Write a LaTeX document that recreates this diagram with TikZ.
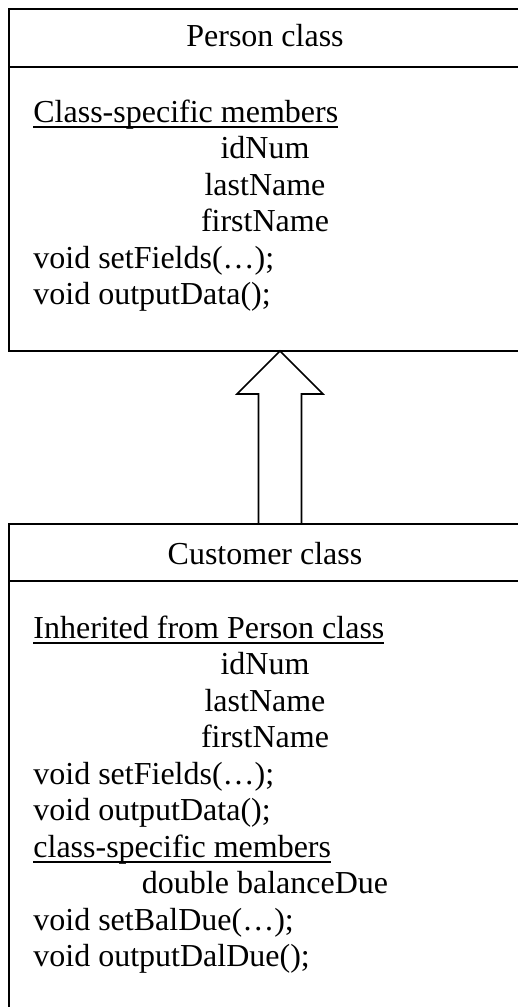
\documentclass[tikz,border=0pt]{standalone}
\usepackage{fontspec}
\setmainfont{Liberation Serif}
\usetikzlibrary{positioning}

\newsavebox{\ulbox}
\newcommand{\ulword}[1]{\sbox{\ulbox}{#1}\rlap{\vrule height -1.9pt depth 3pt width \wd\ulbox}\usebox{\ulbox}}
\newcommand{\membfont}{\fontsize{16}{19}\selectfont}

\begin{document}
\begin{tikzpicture}[x=0.5pt, y=-0.5pt,
  classbox/.style={draw, line width=1pt, outer sep=0pt, inner sep=0pt, anchor=north west},
  title/.style={anchor=base, inner sep=0pt, font=\membfont},
  member/.style={anchor=base west, inner sep=0pt, font=\membfont},
  field/.style={anchor=base, inner sep=0pt, font=\membfont},
  inherit/.style={draw, line width=0.8pt, fill=white, line join=miter}]

% GLOBAL SETTINGS
\newcommand{\lx}{33}
\newcommand{\cx}{265}
\newcommand{\dy}{36.5}
\newlength{\px}
\setlength{\px}{0.5pt}

\useasboundingbox (0,0) rectangle (518,1007);
\clip (0,0) rectangle (518,1007);

% BOXES
\node[classbox, minimum width=513\px, minimum height=342\px] (person) at (9,9) {};
\node[classbox, minimum width=513\px, minimum height=500\px] (customer) at (9,524) {};
\draw[line width=1pt] ([yshift=-58\px]person.north west) -- ([yshift=-58\px]person.north east);
\draw[line width=1pt] ([yshift=-57\px]customer.north west) -- ([yshift=-57\px]customer.north east);

% TITLES
\node[title] (personT) at (\cx,46.5) {Person class};
\node[title] (customerT) at (\cx,564) {Customer class};

% PERSON MEMBERS
\node[member] (pHead) at (\lx,122) {\ulword{Class-specific members}};
\path (\cx,122) foreach \f [count=\i] in {idNum,lastName,firstName} {
++(0,\dy) node[field] (pF\i) {\f}
};
\path (\lx,{122+3*\dy}) foreach \m [count=\i] in {{void setFields(…);},{void outputData();}} {
++(0,\dy) node[member] (pM\i) {\m}
};

% CUSTOMER MEMBERS
\node[member] (cHead) at (\lx,638) {\ulword{Inherited from Person class}};
\path (\cx,638) foreach \f [count=\i] in {idNum,lastName,firstName} {
++(0,\dy) node[field] (cF\i) {\f}
};
\path (\lx,{638+3*\dy}) foreach \m [count=\i] in {{void setFields(…);},{void outputData();}} {
++(0,\dy) node[member] (cM\i) {\m}
};
\node[member] (cSub) at (\lx,{638+6*\dy}) {\ulword{class-specific members}};
\node[field] (cF4) at (\cx,{638+7*\dy}) {double balanceDue};
\path (\lx,{638+7*\dy}) foreach \m [count=\i from 3] in {{void setBalDue(…);},{void outputDalDue();}} {
++(0,\dy) node[member] (cM\i) {\m}
};

% INHERITANCE ARROW
\coordinate (tip) at ([xshift=14.5\px]person.south);
\coordinate (tail) at (tip |- customer.north);
\draw[inherit] (tail) ++(-21.5,0) -- ++(0,-130) -- ++(-21.5,0) -- (tip)
  -- ++(43,43) -- ++(-21.5,0) -- ++(0,130) -- cycle;

\end{tikzpicture}
\end{document}
